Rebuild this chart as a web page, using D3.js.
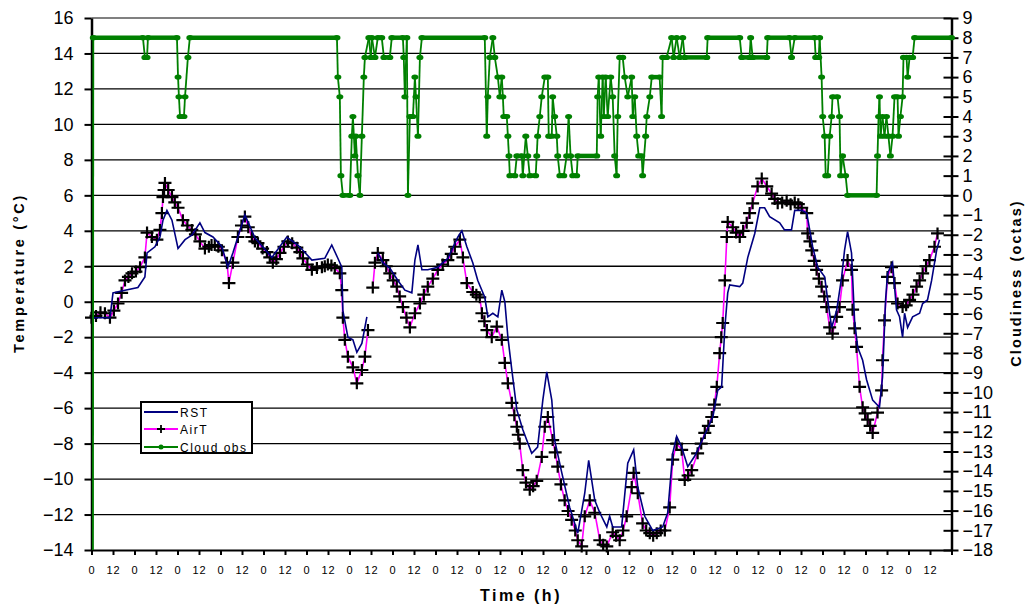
<!DOCTYPE html>
<meta charset="utf-8">
<style>
body { margin: 0; background: #fff; }
svg text { font-family: Arial, "Liberation Sans", sans-serif; fill: #000; }
.axis path, .axis line { stroke: #000; stroke-width: 2px; }
</style>
<svg width="1025" height="605"></svg>
<script src="https://cdn.jsdelivr.net/npm/d3@7"></script>
<script>

// [hour, °C]
var airT = [[0,-0.9],[2.5,-0.8],[5,-0.6],[7.5,-0.65],[10.3,-0.9],[12.5,-0.5],[14.8,-0.1],[16.8,0.5],[18.7,1.2],[20.6,1.4],[22.6,1.6],[24.8,1.7],[27.1,1.95],[29.8,2.5],[31,3.9],[33.7,3.65],[36.5,3.5],[38.2,4.05],[39.3,5.0],[39.9,5.9],[40.5,6.3],[41,6.7],[42.8,6.3],[44.9,5.9],[46.5,5.6],[48.3,5.3],[51,4.6],[53.5,4.3],[56,4.05],[58,3.8],[60.5,3.4],[63.3,3.0],[65.5,3.1],[67,3.2],[68.8,3.2],[70.8,3.1],[72.8,2.9],[75.6,2.2],[76.7,1.05],[78.9,2.2],[81.7,3.65],[83.7,4.3],[85.6,4.8],[87.5,4.2],[89.5,3.65],[91.2,3.4],[92.9,3.3],[95.5,3.0],[97.9,2.8],[99.5,2.5],[101.2,2.2],[103.2,2.4],[105.2,2.75],[107.4,3.1],[109.6,3.4],[112,3.3],[114.6,3.05],[116.3,2.8],[118,2.45],[120.5,2.1],[123,1.8],[125.8,1.9],[128.6,1.95],[130.2,2.0],[131.9,2.1],[133.9,2.05],[135.8,1.9],[138.6,1.6],[139.7,0.65],[140.3,-0.9],[141.4,-2.15],[143.1,-3.1],[145.9,-3.7],[148.1,-4.6],[150.9,-3.85],[152.6,-3.1],[154.3,-1.6],[155.6,null],[157,0.8],[158.2,2.2],[159.8,2.75],[162.6,2.35],[164.5,2.0],[166.5,1.6],[168.4,1.2],[170.4,0.85],[172,0.3],[173.8,-0.3],[175.8,-0.9],[177.7,-1.45],[180.5,-0.65],[183.3,-0.1],[185.5,0.4],[187.7,0.85],[190.5,1.3],[193.3,1.8],[196,2.1],[198.9,2.35],[200.8,2.7],[202.8,3.1],[205.6,3.5],[207.3,2.5],[209.5,1.05],[212.8,0.55],[214.8,0.4],[216.7,0.25],[217.9,-0.65],[219.3,-1.1],[220.7,-1.6],[223.4,-2],[226.2,-1.4],[229,-2.15],[230.7,-3.45],[232.4,-4.6],[234.6,-5.7],[236,-6.4],[237.4,-7.05],[238.2,-7.5],[239,-8],[240.7,-9.5],[242.5,-10.2],[244.6,-10.6],[246.5,-10.4],[248.5,-10.1],[251.3,-8.75],[253,-7.05],[254.7,-6.5],[257.4,-7.8],[258.8,-8.5],[260.2,-9.3],[262,-10.3],[264.1,-11.2],[266,-11.8],[268,-12.3],[270,-12.9],[271.4,-13.45],[273.6,-13.8],[275.3,-12.1],[278.1,-11.2],[280.9,-11.9],[283.7,-13.45],[285.6,-13.7],[287.6,-13.8],[290.9,-13.0],[292.8,-13.2],[294.8,-13.45],[296.7,-12.9],[298.7,-12.1],[301.5,-10.45],[302.6,-9.65],[304.9,-10.8],[307.6,-12.5],[309.6,-12.9],[311.6,-13.05],[313.5,-13.2],[315.5,-13.05],[317.7,-12.9],[320,-12.9],[322.7,-11.6],[324.4,-8.9],[326.6,-8.0],[329.4,-8.35],[331.1,-10.05],[333,-9.8],[335,-9.5],[338.3,-8.55],[340.3,-8.0],[342.3,-7.4],[344.3,-7.0],[346.2,-6.5],[347.6,-5.8],[349,-4.8],[350.6,-2.9],[351.5,-2.0],[352.3,-1.2],[353.5,1.2],[354.6,3.65],[355.1,4.5],[357.9,4.2],[359.8,3.9],[361.8,3.65],[363.7,4.0],[365.7,4.45],[367.3,5.0],[369,5.55],[371.8,6.5],[374.1,6.95],[376.9,6.5],[379.6,6.1],[381.3,5.8],[383,5.55],[385.5,5.6],[388,5.7],[390.2,5.5],[392.5,5.6],[394.5,5.5],[396.4,5.3],[399.2,5.0],[399.7,3.85],[401,3.4],[402,2.9],[403.4,2.3],[404.7,1.8],[406,1.3],[407.5,0.85],[409,0.3],[410.3,-0.3],[412,-1.45],[413.6,-1.8],[415.9,-0.85],[417.5,-0.3],[419.2,1.2],[422,2.35],[424.2,1.8],[424.8,-0.45],[425.9,-1.5],[427,-2.55],[428.7,-4.8],[430.4,-5.95],[431.8,-6.3],[433.2,-6.65],[434.6,-7.0],[436,-7.4],[438.7,-6.25],[441,-5.0],[441.5,-3.3],[442.6,-1.05],[444.3,1.4],[446.5,1.95],[448.2,1.05],[449.9,-0.1],[452.7,-0.3],[454.7,-0.2],[456.6,0.1],[458.5,0.4],[460.5,0.85],[462.2,1.2],[463.9,1.6],[465.8,2.0],[467.7,2.35],[470.5,3.1],[472.2,3.85]];

// [hour, °C]
var rst = [[0.3,-0.9],[10.3,-0.9],[12,0.5],[18.7,0.65],[25.9,0.8],[29.8,1.4],[31,2.75],[35.4,3.1],[38.2,3.65],[39.9,4.6],[42.1,5.15],[44.9,4.6],[48.3,3.0],[52.2,3.5],[56,3.75],[60.5,4.45],[63.3,3.9],[67.8,3.65],[72.8,3.1],[76.1,1.95],[78.9,2.75],[81.7,3.65],[85.6,4.9],[91.2,3.6],[100.7,2.5],[109,3.65],[115.2,3.2],[123,2.35],[130.2,2.45],[134.1,3.2],[137.5,2.45],[139.7,1.95],[140.3,-0.5],[143.1,-2],[145.9,-2.15],[148.1,-2.85],[150.9,-2.35],[153.7,-0.85],[155.6,null],[159.8,2.75],[162.6,2.2],[166.5,1.9],[171,1.2],[174.9,0.65],[178.8,0.5],[180.5,2.35],[182.2,3.2],[184.4,1.8],[187.7,1.8],[193.3,1.95],[198.9,2.45],[204.5,3.65],[206.7,4.0],[209.5,3.1],[212.8,2.2],[215.6,1.2],[219.5,0.25],[221.2,-0.85],[224,-0.65],[226.8,-0.85],[229,0.65],[230.7,0],[232.4,-2],[234.6,-3.85],[237.4,-6.1],[240.7,-7.2],[245.7,-8.55],[249,-8.2],[251.9,-5.55],[254.1,-3.95],[256.9,-5.55],[258.5,-7.8],[262.5,-9.65],[266.9,-11.6],[271.4,-13.05],[275.3,-10.8],[277.5,-8.95],[280.9,-11.2],[283.7,-11.9],[287.6,-12.7],[289.2,-12.1],[290.9,-12.7],[295.9,-12.7],[299.3,-9.1],[302.6,-8.35],[304.9,-10.45],[308.8,-12.1],[313.2,-12.9],[318.8,-12.7],[321.6,-11.9],[324.4,-8.55],[326.6,-7.6],[329.4,-8.2],[332.8,-9.3],[336.7,-8.7],[342.3,-7.5],[346.8,-6.5],[349.5,-5.0],[351.7,-4.8],[353.5,-1.45],[355.1,0.5],[356.2,0.95],[361.8,0.85],[363.5,1.05],[366.3,2.5],[370.2,3.85],[373,5.3],[375.7,5.3],[378.5,4.8],[384.1,4.45],[386.8,4.05],[390.7,4.05],[392.5,5.15],[396.4,5.15],[399.2,5.0],[402.5,3.1],[405.3,1.95],[409.2,1.4],[410.9,0.1],[413.1,-1.45],[415.9,-0.5],[418.7,1.4],[420.3,2.9],[422,3.95],[424.2,2.75],[425.9,-1.05],[427.6,-2.55],[430.4,-3.3],[432.6,-4.4],[436,-5.55],[439.8,-5.95],[441.5,-4.25],[443.2,0.1],[444.3,1.6],[447.1,2.2],[449.3,-0.45],[451,-0.85],[452.7,-2.0],[453.8,-0.65],[455.5,-1.45],[458.3,-0.85],[462.2,-0.65],[463.9,-0.1],[466.6,0.1],[468.9,1.2],[471.7,2.9],[473.3,3.5]];

// [hour, octas]
var cloudObs = [[0.8,-18],[1,8],[28.7,8],[29.8,7],[31,7],[31.5,8],[47.7,8],[48.3,6],[48.8,5],[49.4,4],[51.6,4],[52.2,5],[53.8,7],[54.9,8],[137,8],[137.5,6],[138.6,5],[139.2,1],[140.3,0],[144.2,0],[145.3,3],[145.9,4],[147,2],[147.5,3],[148.7,1],[149.8,0],[150.9,3],[152,6],[152.6,7],[154.8,8],[155.9,7],[156.5,8],[158.2,7],[159.8,8],[162,8],[163.2,7],[166.5,7],[167.6,8],[173.8,8],[174.3,7],[174.9,5],[176,8],[176.6,0],[177.7,4],[179.4,4],[180.5,6],[181.1,5],[182.2,3],[183.3,7],[184.4,8],[219.5,8],[220.6,3],[221.2,5],[222.3,7],[224,8],[225.1,7],[226.8,6],[227.9,5],[229,6],[229.6,5],[230.1,4],[231.8,4],[232.4,3],[233,2],[233.5,1],[236.3,1],[237.4,2],[240.2,2],[240.7,1],[242.4,3],[243.5,2],[244.6,1],[247.9,1],[248.5,2],[249,3],[250.2,4],[251.3,5],[253,6],[254.7,6],[255.2,3],[256.9,3],[257.4,5],[258.5,4],[259.7,3],[260.2,2],[261.4,1],[263.6,1],[265.2,2],[266.3,4],[267.4,2],[268.6,1],[270.8,1],[271.4,2],[282,2],[282.5,5],[283.1,6],[284.2,3],[285.3,6],[285.9,4],[287,6],[288.1,4],[289.8,6],[290.9,5],[292,2],[293.1,1],[293.7,4],[294.8,7],[296.5,7],[297.6,6],[299.3,5],[301.5,6],[302.1,4],[303.2,5],[304.3,3],[305.4,2],[307.1,2],[307.6,1],[309.3,3],[309.9,4],[311.6,5],[312.7,6],[317.1,6],[318.2,4],[318.8,7],[321,7],[323.8,8],[324.9,7],[326.6,8],[328.3,7],[330,8],[331.1,7],[343.4,7],[343.9,8],[361.8,8],[362.9,7],[367.3,7],[367.9,8],[369,7],[376.9,7],[377.4,8],[389.6,8],[390.7,7],[392.5,8],[403.6,8],[404.2,7],[405.9,7],[406.4,8],[407.5,6],[408.1,4],[409.2,3],[409.8,1],[410.9,1],[412,3],[413.1,4],[413.6,5],[416.4,5],[417.5,4],[418.1,1],[419.2,2],[420.9,1],[422,0],[438.2,0],[438.7,2],[439.3,4],[439.8,5],[440.4,3],[441.5,4],[442.6,3],[443.7,4],[444.8,3],[445.9,2],[447.1,3],[448.2,5],[449.9,5],[450.4,3],[451.5,4],[452.7,5],[453.2,7],[454.9,7],[455.5,6],[456.6,7],[458.3,7],[459.4,8],[480,8]];

var tempTicks = d3.range(-14, 17, 2);
var cloudTicks = d3.range(-18, 10, 1);
var hourTicks = d3.range(0, 481, 12);

var svg = d3.select("svg");
var pLeft = 91.5, pRight = 951.5, pTop = 18, pBottom = 550;

var x = d3.scaleLinear().domain([0, 480]).range([pLeft, pRight]);
var yT = d3.scaleLinear().domain([-14, 16]).range([pBottom, pTop]);
var yC = d3.scaleLinear().domain([-18, 9]).range([pBottom, pTop]);

// gridlines
svg.append("g")
  .selectAll("line")
  .data(tempTicks.filter(function(t) { return t > -14; }))
  .enter().append("line")
    .attr("x1", pLeft).attr("x2", pRight)
    .attr("y1", function(d) { return yT(d); })
    .attr("y2", function(d) { return yT(d); })
    .style("stroke", function(d) { return d == 16 ? "#808080" : "#000"; })
    .style("stroke-width", function(d) { return d == 16 ? 2 : 1.3; });

// axes
var gl = svg.append("g").attr("class", "axis")
  .attr("transform", "translate(" + pLeft + ",0)")
  .call(d3.axisLeft(yT).tickValues(tempTicks).tickSize(7).tickSizeOuter(0).tickPadding(11));
gl.selectAll("text").style("font-size", "18px");
gl.select(".domain").style("stroke-width", "2.5px");

var gr = svg.append("g").attr("class", "axis")
  .attr("transform", "translate(" + pRight + ",0)")
  .call(d3.axisRight(yC).tickValues(cloudTicks).tickSize(7).tickSizeOuter(0).tickPadding(4));
gr.selectAll(".tick line").attr("x1", -8);
gr.selectAll("text").style("font-size", "18px");
gr.select(".domain").style("stroke-width", "2.5px");

var gb = svg.append("g").attr("class", "axis")
  .attr("transform", "translate(0," + pBottom + ")")
  .call(d3.axisBottom(x).tickValues(hourTicks).tickSize(5).tickSizeOuter(0).tickPadding(11)
    .tickFormat(function(h) { return h == 480 ? "" : h % 24; }));
gb.selectAll("text").style("font-size", "11px").style("letter-spacing", "1px");

// axis titles
svg.append("text")
  .attr("transform", "translate(24,273) rotate(-90)")
  .attr("text-anchor", "middle")
  .style("font-size", "14.5px").style("font-weight", "bold").style("letter-spacing", "2.7px")
  .text("Temperature (°C)");
svg.append("text")
  .attr("transform", "translate(1021,283) rotate(-90)")
  .attr("text-anchor", "middle")
  .style("font-size", "14.5px").style("font-weight", "bold").style("letter-spacing", "2.1px")
  .text("Cloudiness (octas)");
svg.append("text")
  .attr("x", 521).attr("y", 601)
  .attr("text-anchor", "middle")
  .style("font-size", "16px").style("font-weight", "bold").style("letter-spacing", "2.5px")
  .text("Time (h)");

var plot = svg.append("g");

// AirT
var tLine = d3.line()
  .defined(function(d) { return d[1] != null; })
  .x(function(d) { return x(d[0]); })
  .y(function(d) { return yT(d[1]); });
plot.append("path").datum(airT)
  .attr("d", tLine)
  .attr("fill", "none").attr("stroke", "#ff00ff").attr("stroke-width", 1.6);
plot.append("g").selectAll("path")
  .data(airT.filter(function(d) { return d[1] != null; }))
  .enter().append("path")
    .attr("transform", function(d) { return "translate(" + x(d[0]) + "," + yT(d[1]) + ")"; })
    .attr("d", "M-6.5,0H6.5M0,-6V6")
    .attr("stroke", "#000").attr("stroke-width", 2.2);

// RST
plot.append("path").datum(rst)
  .attr("d", tLine)
  .attr("fill", "none").attr("stroke", "#000080").attr("stroke-width", 1.6);

// Cloud obs
var pairs = d3.pairs(cloudObs);
plot.append("g").selectAll("line")
  .data(pairs)
  .enter().append("line")
    .attr("x1", function(p) { return x(p[0][0]); })
    .attr("y1", function(p) { return yC(p[0][1]); })
    .attr("x2", function(p) { return x(p[1][0]); })
    .attr("y2", function(p) { return yC(p[1][1]); })
    .attr("stroke", "#008000")
    .attr("stroke-width", function(p) { return p[0][1] == p[1][1] ? 4.5 : 1.8; });
plot.append("g").selectAll("ellipse")
  .data(cloudObs.slice(1))
  .enter().append("ellipse")
    .attr("cx", function(d) { return x(d[0]); })
    .attr("cy", function(d) { return yC(d[1]); })
    .attr("rx", 3.5).attr("ry", 2.6)
    .attr("fill", "#008000");

// legend
var lg = svg.append("g").attr("transform", "translate(141,402)");
lg.append("rect").attr("width", 111).attr("height", 51)
  .attr("fill", "#fff").attr("stroke", "#000").attr("stroke-width", 2);
var items = [
  { name: "RST", color: "#000080" },
  { name: "AirT", color: "#ff00ff" },
  { name: "Cloud obs", color: "#008000" }
];
var rowY = [10, 27, 45];
items.forEach(function(it, i) {
  lg.append("line").attr("x1", 3).attr("x2", 37)
    .attr("y1", rowY[i]).attr("y2", rowY[i])
    .attr("stroke", it.color).attr("stroke-width", 2);
  if (i == 1) lg.append("path").attr("transform", "translate(20," + rowY[i] + ")")
    .attr("d", "M-4,0H4M0,-4V4").attr("stroke", "#000").attr("stroke-width", 1.8);
  if (i == 2) lg.append("circle").attr("cx", 20).attr("cy", rowY[i]).attr("r", 2.5).attr("fill", it.color);
  lg.append("text").attr("x", 39).attr("y", rowY[i] + 5)
    .style("font-size", "12px").style("letter-spacing", "1.5px")
    .text(it.name);
});

</script>
